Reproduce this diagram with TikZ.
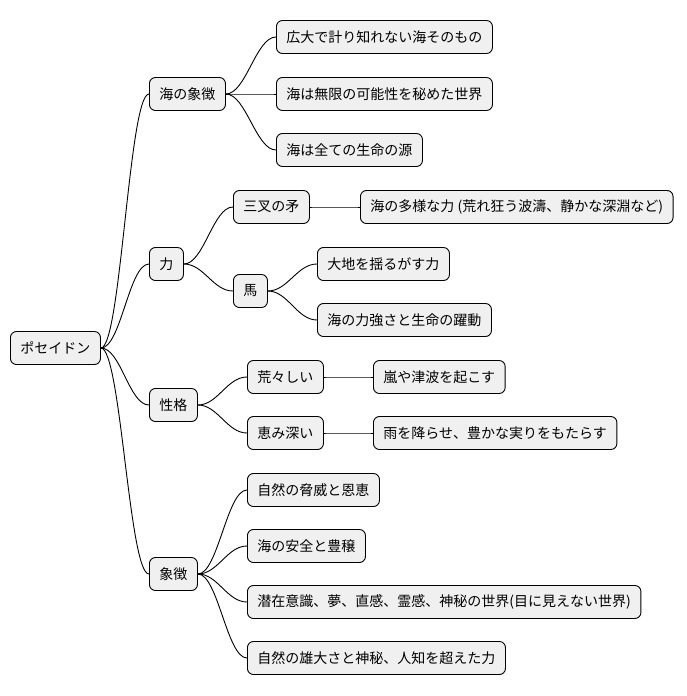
\documentclass[tikz,border=0pt]{standalone}
\usepackage{fontspec}
\setmainfont{Noto Sans CJK JP}
\begin{document}
\begin{tikzpicture}[x=1pt,y=-1pt,
  n/.style={draw=black,line width=0.9pt,fill=black!6,rounded corners=6pt,minimum height=33pt,inner xsep=10pt,anchor=west,font=\fontsize{14}{16}\selectfont},
  c/.style={line width=0.9pt}]
\useasboundingbox (0,0) rectangle (686,696);
\node[n] (r) at (10,348) {ポセイドン};
\node[n] (a) at (149,94) {海の象徴};
\node[n] (a1) at (276,37) {広大で計り知れない海そのもの};
\node[n] (a2) at (276,94) {海は無限の可能性を秘めた世界};
\node[n] (a3) at (276,150) {海は全ての生命の源};
\node[n] (b) at (149,264) {力};
\node[n] (b1) at (233,207) {三叉の矛};
\node[n] (b11) at (360,207) {海の多様な力 (荒れ狂う波濤、静かな深淵など)};
\node[n] (b2) at (233,291) {馬};
\node[n] (b21) at (317,264) {大地を揺るがす力};
\node[n] (b22) at (317,320) {海の力強さと生命の躍動};
\node[n] (p) at (149,405) {性格};
\node[n] (p1) at (247,377) {荒々しい};
\node[n] (p11) at (373,377) {嵐や津波を起こす};
\node[n] (p2) at (247,433) {恵み深い};
\node[n] (p21) at (373,433) {雨を降らせ、豊かな実りをもたらす};
\node[n] (s) at (149,574) {象徴};
\node[n] (s1) at (247,490) {自然の脅威と恩恵};
\node[n] (s2) at (247,546) {海の安全と豊穣};
\node[n] (s3) at (247,602) {潜在意識、夢、直感、霊感、神秘の世界(目に見えない世界)};
\node[n] (s4) at (247,658) {自然の雄大さと神秘、人知を超えた力};
\foreach \u/\v in {r/a,r/b,r/p,r/s,a/a1,a/a2,a/a3,b/b1,b/b2,b1/b11,b2/b21,b2/b22,p/p1,p/p2,p1/p11,p2/p21,s/s1,s/s2,s/s3,s/s4}
  \draw[c] (\u.east) .. controls ([xshift=20pt]\u.east) and ([xshift=-20pt]\v.west) .. (\v.west);
\end{tikzpicture}
\end{document}
